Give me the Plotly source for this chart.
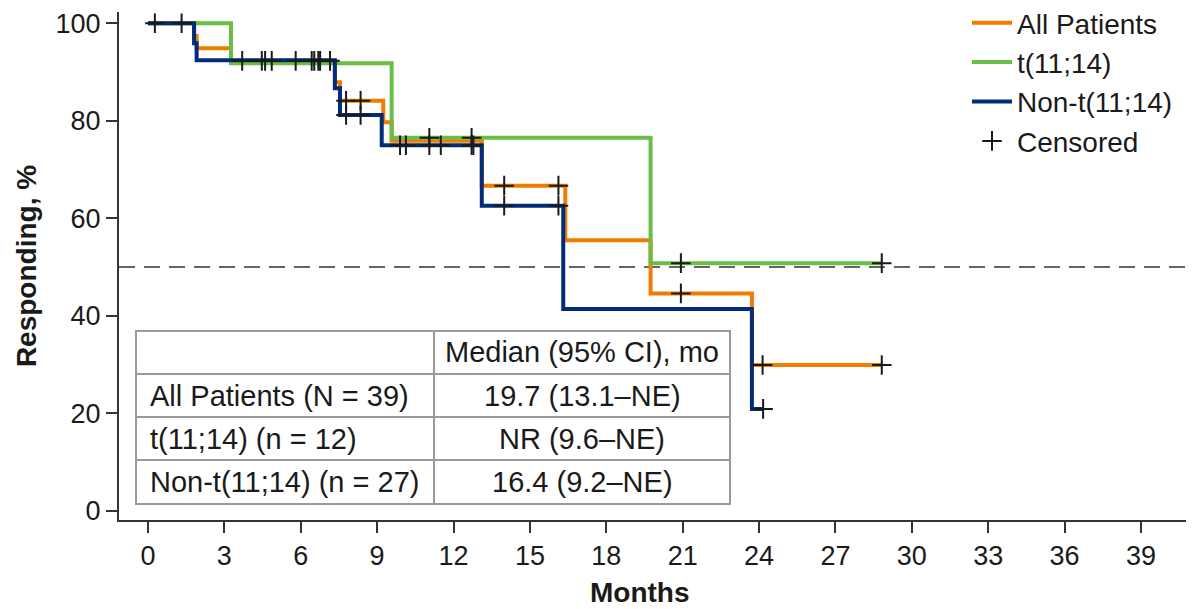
import plotly.graph_objects as go

# ---------------- data ----------------
months_all = [0, 1.81, 1.91, 3.26, 7.34, 7.54, 9.24, 9.57, 13.11, 16.39, 19.74, 23.72, 28.82]
surv_all = [100, 97.4, 94.9, 92.3, 87.9, 84.1, 79.7, 75.9, 66.7, 55.5, 44.6, 29.9, 29.9]

months_t = [0, 3.26, 9.57, 19.74, 28.82]
surv_t = [100, 91.8, 76.5, 50.8, 50.8]

months_non = [0, 1.81, 1.91, 7.34, 7.54, 9.18, 13.11, 16.31, 23.72, 24.16]
surv_non = [100, 95.9, 92.4, 86.7, 81.2, 75.0, 62.6, 41.4, 20.9, 20.9]

cens_all_x = [0.27, 1.32, 3.70, 4.47, 4.60, 4.86, 5.80, 6.43, 6.53, 6.69, 6.76, 7.15,
              7.78, 8.35, 13.99, 16.12, 20.93, 24.14, 28.82]
cens_all_y = [100, 100, 92.3, 92.3, 92.3, 92.3, 92.3, 92.3, 92.3, 92.3, 92.3, 92.3,
              84.1, 84.1, 66.7, 66.7, 44.6, 29.9, 29.9]
cens_t_x = [11.05, 12.71, 20.93, 28.82]
cens_t_y = [76.5, 76.5, 50.8, 50.8]
cens_non_x = [7.78, 8.35, 9.90, 10.13, 11.05, 11.50, 12.71, 12.78, 13.99, 16.12, 24.16]
cens_non_y = [81.2, 81.2, 75.0, 75.0, 75.0, 75.0, 75.0, 75.0, 62.6, 62.6, 20.9]

series_names = ["All Patients", "t(11;14)", "Non-t(11;14)"]
censored_name = "Censored"
median_line = 50

x_ticks = list(range(0, 40, 3))
y_ticks = [0, 20, 40, 60, 80, 100]

table_header = ["", "Median (95% CI), mo"]
table_groups = ["All Patients (N = 39)", "t(11;14) (n = 12)", "Non-t(11;14) (n = 27)"]
table_medians = ["19.7 (13.1\u2013NE)", "NR (9.6\u2013NE)", "16.4 (9.2\u2013NE)"]

# ---------------- style ----------------
W, H = 1194, 609
OFF = 8  # page body margin in the screenshot
# plot-area edges in screenshot pixels
SL, SR, ST, SB = 119, 1186, 12, 520
PL, PR, PT, PB = SL - OFF, SR - OFF, ST - OFF, SB - OFF
FONT = "Arial, 'Liberation Sans', sans-serif"
C_ORANGE = "#F07D00"
C_GREEN = "#6BBE45"
C_NAVY = "#022C7A"


def px_x(p):
    return (p - SL) / (SR - SL)


def px_y(p):
    return (SB - p) / (SB - ST)


fig = go.Figure()

for xs, ys, name, col in [
    (months_all, surv_all, series_names[0], C_ORANGE),
    (months_t, surv_t, series_names[1], C_GREEN),
    (months_non, surv_non, series_names[2], C_NAVY),
]:
    fig.add_trace(go.Scatter(x=xs, y=ys, mode="lines", name=name,
                             line=dict(color=col, width=4, shape="hv")))

first = True
for xs, ys in [(cens_all_x, cens_all_y), (cens_t_x, cens_t_y), (cens_non_x, cens_non_y)]:
    fig.add_trace(go.Scatter(x=xs, y=ys, mode="markers", name=censored_name,
                             legendgroup="cens", showlegend=first,
                             marker=dict(symbol="cross-thin", size=14,
                                         line=dict(color="#1a1a1a", width=2))))
    first = False

# median reference line
fig.add_shape(type="line", xref="paper", yref="y", x0=0, x1=1,
              y0=median_line, y1=median_line,
              line=dict(color="#333333", width=1.5, dash="16px,9px"), layer="below")

# ---------------- table ----------------
tl, tm, tr = 136, 434, 730
rows = [331, 374, 417, 460, 504]
fig.add_shape(type="rect", xref="paper", yref="paper",
              x0=px_x(tl), x1=px_x(tr), y0=px_y(rows[-1]), y1=px_y(rows[0]),
              fillcolor="white", line=dict(color="#9a9a9a", width=2))
for r in rows[1:-1]:
    fig.add_shape(type="line", xref="paper", yref="paper",
                  x0=px_x(tl), x1=px_x(tr), y0=px_y(r), y1=px_y(r),
                  line=dict(color="#9a9a9a", width=2))
fig.add_shape(type="line", xref="paper", yref="paper",
              x0=px_x(tm), x1=px_x(tm), y0=px_y(rows[0]), y1=px_y(rows[-1]),
              line=dict(color="#9a9a9a", width=2))

TF = dict(family=FONT, size=29, color="#1a1a1a")
fig.add_annotation(xref="paper", yref="paper", x=px_x((tm + tr) / 2),
                   y=px_y((rows[0] + rows[1]) / 2), text=table_header[1],
                   showarrow=False, xanchor="center", yanchor="middle", font=TF)
for i, (g, m) in enumerate(zip(table_groups, table_medians)):
    yc = px_y((rows[i + 1] + rows[i + 2]) / 2)
    fig.add_annotation(xref="paper", yref="paper", x=px_x(tl + 12), y=yc, text=g,
                       showarrow=False, xanchor="left", yanchor="middle", font=TF)
    fig.add_annotation(xref="paper", yref="paper", x=px_x((tm + tr) / 2), y=yc, text=m,
                       showarrow=False, xanchor="center", yanchor="middle", font=TF)

# ---------------- axes ----------------
PX_PER_MONTH = 25.46
X0_PX = 148
Y0_PX = 510.8
PX_PER_PCT = 4.875

fig.update_xaxes(range=[(SL - X0_PX) / PX_PER_MONTH, (SR - X0_PX) / PX_PER_MONTH],
                 tickmode="array", tickvals=x_ticks,
                 showline=True, linecolor="#333333", linewidth=2,
                 ticks="outside", ticklen=11, tickwidth=2, tickcolor="#333333",
                 showgrid=False, zeroline=False, automargin=False,
                 tickfont=dict(family=FONT, size=27, color="#1a1a1a"))
fig.update_yaxes(range=[(Y0_PX - SB) / PX_PER_PCT, (Y0_PX - ST) / PX_PER_PCT],
                 tickmode="array", tickvals=y_ticks,
                 showline=True, linecolor="#333333", linewidth=2,
                 ticks="outside", ticklen=11, tickwidth=2, tickcolor="#333333",
                 showgrid=False, zeroline=False, automargin=False,
                 tickfont=dict(family=FONT, size=27, color="#1a1a1a"),
                 title=dict(text="<b>Responding, %</b>", standoff=11,
                            font=dict(family=FONT, size=28, color="#1a1a1a")))

# x-axis title placed as in the reference (slightly left of plot centre)
fig.add_annotation(xref="paper", yref="paper", x=px_x(640), y=px_y(592),
                   text="<b>Months</b>", showarrow=False, xanchor="center",
                   yanchor="middle", font=dict(family=FONT, size=28, color="#1a1a1a"))

fig.update_layout(
    width=W, height=H,
    margin=dict(l=PL, r=W - PR, t=PT, b=H - PB, autoexpand=False),
    paper_bgcolor="white", plot_bgcolor="white",
    font=dict(family=FONT, color="#1a1a1a"),
    legend=dict(x=px_x(967), y=px_y(-2), xanchor="left", yanchor="top",
                bgcolor="rgba(0,0,0,0)", font=dict(family=FONT, size=28, color="#1a1a1a"),
                traceorder="normal", itemwidth=40),
)

fig.write_html("out.html")
